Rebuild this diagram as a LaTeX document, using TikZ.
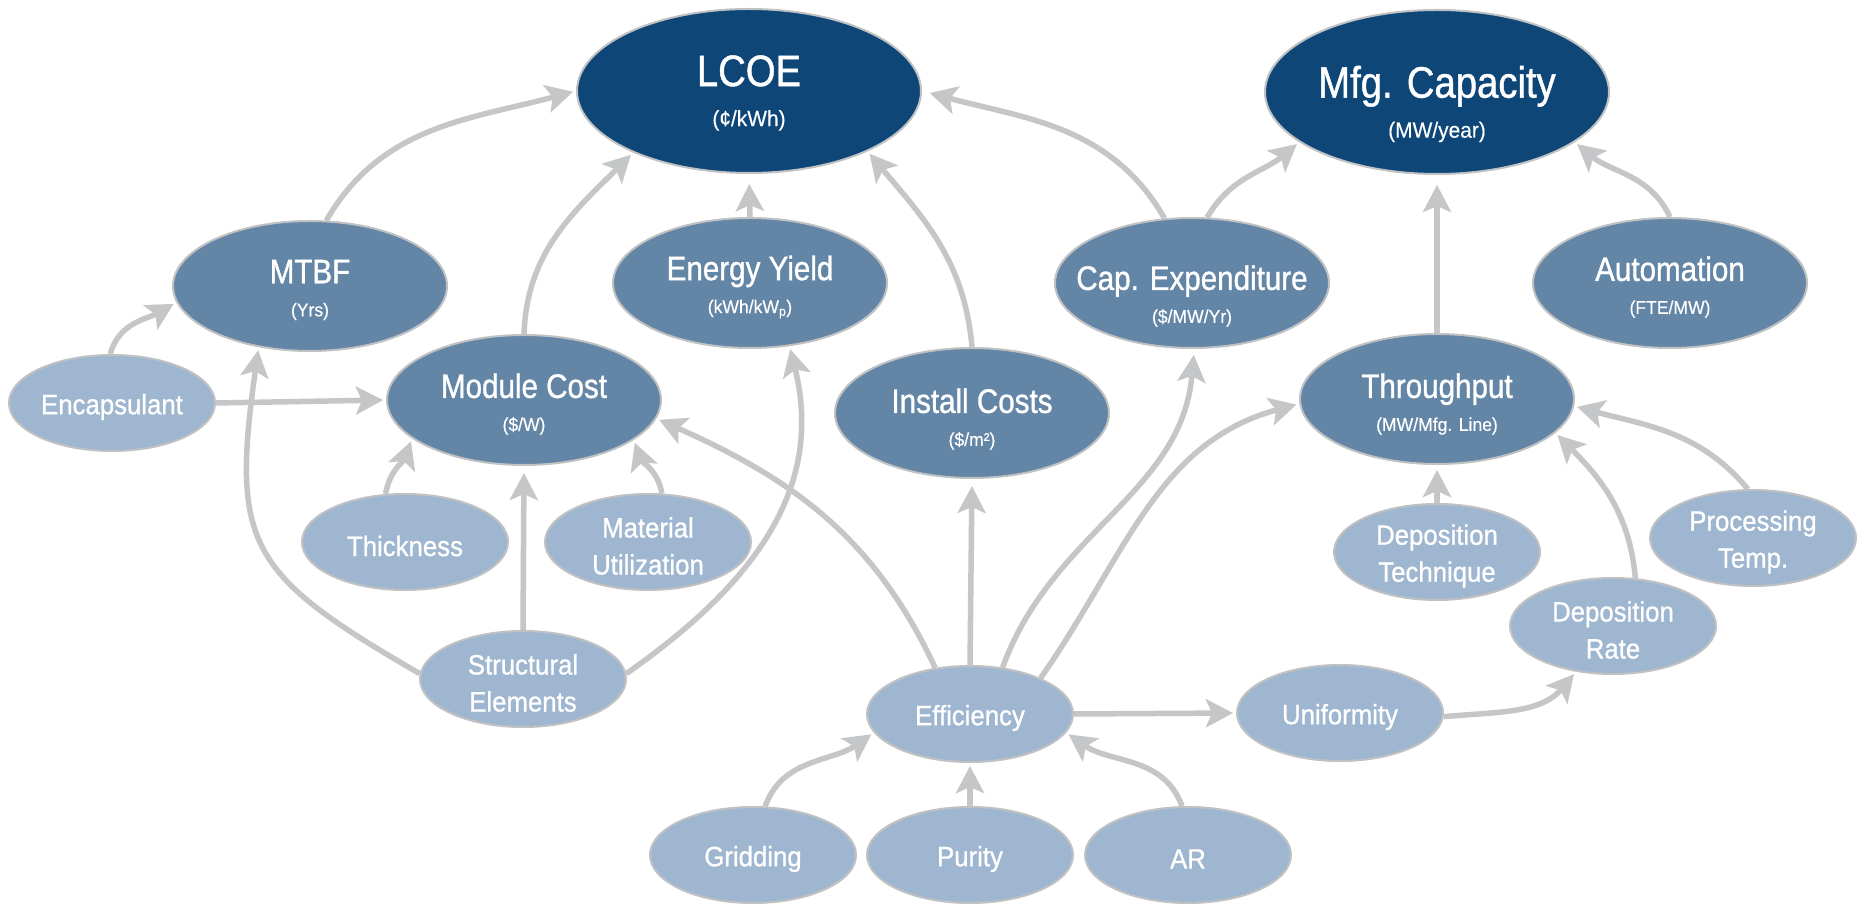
\documentclass[tikz,border=0pt]{standalone}
\usepackage{fontspec}
\usetikzlibrary{shapes.geometric,arrows.meta}
\newfontfamily\cf[FakeStretch=0.87,FakeBold=1.0]{Liberation Sans}
\newfontfamily\lfnt[FakeStretch=0.92,FakeBold=0.8]{Liberation Sans}
\newfontfamily\sfnt[FakeStretch=0.95,FakeBold=0.3]{Liberation Sans}
\newcommand\bigsub{\sfnt\fontsize{22}{22}\selectfont}
\newcommand\midsub{\sfnt\fontsize{18.5}{18.5}\selectfont}
\definecolor{navy}{HTML}{0D4677}
\definecolor{steel}{HTML}{6385A6}
\definecolor{pale}{HTML}{9FB6D0}
\definecolor{linkgrey}{HTML}{C5C6C8}
\definecolor{rim}{HTML}{C0C1C3}
\pgfdeclarelayer{bg}
\pgfsetlayers{bg,main}
\tikzset{
  bubble/.style={ellipse, draw=rim, line width=2pt, inner sep=0pt},
  big/.style={bubble, fill=navy, minimum width=344pt, minimum height=164pt},
  mid/.style={bubble, fill=steel, minimum width=274pt, minimum height=130pt},
  leaf/.style={bubble, fill=pale, minimum width=206pt, minimum height=96pt,
    label={[leaftxt]center:{#1}}},
  bigtxt/.style={text=white, align=center, font=\cf\fontsize{44}{40}\selectfont},
  midtxt/.style={text=white, align=center, font=\cf\fontsize{34}{33}\selectfont},
  leaftxt/.style={text=white, align=center, yshift=-4pt,
    font=\lfnt\fontsize{28}{37}\selectfont},
  link/.style={draw=linkgrey, line width=5.5pt,
    -{Stealth[length=27pt,width=28pt,inset=6pt]}, shorten >=3pt},
}
\begin{document}
\begin{tikzpicture}[x=1pt,y=1pt]
\useasboundingbox (0,0) rectangle (1861,905);

% outcome metrics
\node[big, label={[bigtxt,yshift=-2pt]center:{LCOE\\{\bigsub(¢/kWh)}}}] (lcoe) at (749,814) {};
\node[big, label={[bigtxt,yshift=-12pt]center:{Mfg. Capacity\\{\bigsub(MW/year)}}}] (mfg) at (1437,813) {};

% intermediate drivers
\node[mid, label={[midtxt,yshift=-4pt]center:{MTBF\\{\midsub(Yrs)}}}] (mtbf) at (310,619) {};
\node[mid, label={[midtxt,yshift=-4pt]center:{Energy Yield\\{\midsub(kWh/kW\textsubscript{p})}}}] (eyield) at (750,622) {};
\node[mid, label={[midtxt,yshift=-13pt]center:{Cap. Expenditure\\{\midsub(\$/MW/Yr)}}}] (capex) at (1192,622) {};
\node[mid, label={[midtxt,yshift=-4pt]center:{Automation\\{\midsub(FTE/MW)}}}] (auto) at (1670,622) {};
\node[mid, label={[midtxt,yshift=-4pt]center:{Module Cost\\{\midsub(\$/W)}}}] (modcost) at (524,505) {};
\node[mid, label={[midtxt,yshift=-6pt]center:{Install Costs\\{\midsub(\$/m²)}}}] (install) at (972,492) {};
\node[mid, label={[midtxt,yshift=-5pt]center:{Throughput\\{\midsub(MW/Mfg. Line)}}}] (thru) at (1437,506) {};

% underlying parameters
\node[leaf={Encapsulant}] (encap) at (112,502) {};
\node[leaf={Thickness}] (thick) at (405,363) {};
\node[leaf={Material\\Utilization}] (matut) at (648,363) {};
\node[leaf={Structural\\Elements}] (struct) at (523,226) {};
\node[leaf={Efficiency}] (eff) at (970,191) {};
\node[leaf={Uniformity}] (unif) at (1340,192) {};
\node[leaf={Gridding}] (grid) at (753,50) {};
\node[leaf={Purity}] (purity) at (970,50) {};
\node[leaf={AR}] (ar) at (1188,50) {};
\node[leaf={Deposition\\Technique}] (deptech) at (1437,353) {};
\node[leaf={Processing\\Temp.}] (proc) at (1753,367) {};
\node[leaf={Deposition\\Rate}] (deprate) at (1613,279) {};

\begin{pgfonlayer}{bg}
\fill[white] (0,0) rectangle (1861,905);
% into LCOE
\draw[link] (mtbf.76) to[out=60,in=195] (lcoe.west);
\draw[link] (modcost.north) to[out=88,in=225] (lcoe.208);
\draw[link, shorten >=10pt] (eyield.north) -- (lcoe.south);
\draw[link] (install.north) to[out=95,in=310] (lcoe.333);
\draw[link, shorten >=8pt] (capex.113) to[out=120,in=345] (lcoe.east);
% into Mfg. Capacity
\draw[link] (capex.77) to[out=60,in=220] (mfg.200);
\draw[link, shorten >=10pt] (thru.north) -- (mfg.south);
\draw[link] (auto.north) to[out=115,in=320] (mfg.340);
% into MTBF, Module Cost, Energy Yield
\draw[link] (encap.92) to[out=75,in=210] (mtbf.187);
\draw[link] (encap.east) -- (modcost.west);
\draw[link] (thick.112) to[out=80,in=250] (modcost.199);
\draw[link] (matut.74) to[out=100,in=290] (modcost.340);
\draw[link, shorten >=7pt] (struct.north) -- (modcost.south);
\draw[link] (struct.177) to[out=150,in=262,looseness=1.4] (mtbf.230);
\draw[link] (struct.3) to[out=35,in=284,looseness=1.05] (eyield.302);
% from Efficiency
\draw[link] (eff.127) to[out=115,in=336] (modcost.352);
\draw[link, shorten >=7pt] (eff.north) -- (install.south);
\draw[link, shorten >=6pt] (eff.55) to[out=70,in=265] (capex.272);
\draw[link] (eff.27) to[out=55,in=195] (thru.182);
\draw[link] (eff.east) -- (unif.west);
% into Throughput
\draw[link] (unif.-2) to[out=5,in=230] (deprate.231);
\draw[link] (deprate.65) to[out=95,in=315] (thru.344);
\draw[link] (proc.96) to[out=130,in=345] (thru.357);
\draw[link, shorten >=5pt] (deptech.north) -- (thru.south);
% into Efficiency
\draw[link] (grid.76) to[out=70,in=215] (eff.191);
\draw[link] (purity.north) -- (eff.south);
\draw[link] (ar.97) to[out=110,in=325] (eff.349);
\end{pgfonlayer}
\end{tikzpicture}
\end{document}
